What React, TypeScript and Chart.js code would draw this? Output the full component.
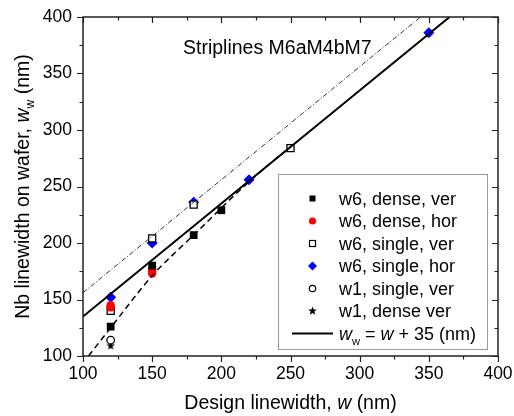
import React, { useEffect, useRef } from 'react';
import { Chart, registerables } from 'chart.js';
Chart.register(...registerables);

// ---------- data ----------
const seriesNames = ['w6, dense, ver', 'w6, dense, hor', 'w6, single, ver', 'w6, single, hor', 'w1, single, ver', 'w1, dense ver'];

const w6DenseVerX = [120, 150, 180, 200];
const w6DenseVerY = [126, 180, 207, 229];
const w6DenseHorX = [120, 120, 150, 150, 150];
const w6DenseHorY = [145, 143, 177, 175, 173];
const w6SingleVerX = [120, 150, 180, 250];
const w6SingleVerY = [140, 204, 234, 284];
const w6SingleHorX = [120, 150, 180, 220, 350];
const w6SingleHorY = [152, 200, 236, 256, 386];
const w1SingleVerX = [120];
const w1SingleVerY = [114];
const w1DenseVerX = [120];
const w1DenseVerY = [109];

// fit line w_w = w + 35
const fitX = [100, 365];
const fitY = [135, 400];
// upper dash-dot guide
const upperX = [100, 344];
const upperY = [156, 400];
// lower dashed curve
const dashedX = [104, 120, 150, 167, 180, 211, 233, 250];
const dashedY = [100, 125, 171, 192, 207, 244, 268, 285];

const xMajorTicks = [100, 150, 200, 250, 300, 350, 400];
const yMajorTicks = [100, 150, 200, 250, 300, 350, 400];

const annotationText = 'Striplines M6aM4bM7';

const FONT = "'Liberation Sans', Arial, Helvetica, sans-serif";

const zip = (xs: number[], ys: number[]) => xs.map((x, i) => ({ x, y: ys[i] }));

function starPath(ctx: CanvasRenderingContext2D, cx: number, cy: number, R: number, r: number) {
  ctx.beginPath();
  for (let i = 0; i < 10; i++) {
    const rad = i % 2 === 0 ? R : r;
    const a = -Math.PI / 2 + (i * Math.PI) / 5;
    const px = cx + rad * Math.cos(a);
    const py = cy + rad * Math.sin(a);
    if (i === 0) ctx.moveTo(px, py);
    else ctx.lineTo(px, py);
  }
  ctx.closePath();
}

function makeStar(R: number) {
  const c = document.createElement('canvas');
  const s = Math.ceil(R * 2 + 2);
  c.width = s;
  c.height = s;
  const g = c.getContext('2d')!;
  g.fillStyle = '#000';
  starPath(g, s / 2, s / 2, R, R * 0.42);
  g.fill();
  return c;
}

type Seg = { t: string; it?: boolean; sub?: boolean };

function drawRich(ctx: CanvasRenderingContext2D, segs: Seg[], x: number, y: number, size: number, align: 'left' | 'center') {
  const fontOf = (s: Seg) => `${s.it ? 'italic ' : ''}${s.sub ? size * 0.62 : size}px ${FONT}`;
  let total = 0;
  const widths = segs.map((s) => {
    ctx.font = fontOf(s);
    const w = ctx.measureText(s.t).width;
    total += w;
    return w;
  });
  let cx = align === 'center' ? x - total / 2 : x;
  ctx.textAlign = 'left';
  ctx.textBaseline = 'alphabetic';
  segs.forEach((s, i) => {
    ctx.font = fontOf(s);
    ctx.fillText(s.t, cx, y + (s.sub ? size * 0.28 : 0));
    cx += widths[i];
  });
}

const decor = {
  id: 'decor',
  afterDraw(chart: any) {
    const { ctx, chartArea } = chart;
    const { left, right, top, bottom } = chartArea;
    const xs = chart.scales.x;
    const ys = chart.scales.y;
    ctx.save();
    ctx.fillStyle = '#000';
    ctx.strokeStyle = '#222';
    // frame
    ctx.lineWidth = 1.5;
    ctx.strokeRect(left, top, right - left, bottom - top);
    // ticks
    ctx.lineWidth = 1.2;
    ctx.beginPath();
    const xAll: [number, boolean][] = [];
    xMajorTicks.forEach((v, i) => {
      xAll.push([v, true]);
      if (i < xMajorTicks.length - 1) xAll.push([(v + xMajorTicks[i + 1]) / 2, false]);
    });
    const yAll: [number, boolean][] = [];
    yMajorTicks.forEach((v, i) => {
      yAll.push([v, true]);
      if (i < yMajorTicks.length - 1) yAll.push([(v + yMajorTicks[i + 1]) / 2, false]);
    });
    xAll.forEach(([v, major]) => {
      const len = major ? 6 : 3.5;
      const px = Math.round(xs.getPixelForValue(v)) + 0.5;
      ctx.moveTo(px, bottom);
      ctx.lineTo(px, bottom + len);
      ctx.moveTo(px, top);
      ctx.lineTo(px, top + len);
    });
    yAll.forEach(([v, major]) => {
      const len = major ? 6 : 3.5;
      const py = Math.round(ys.getPixelForValue(v)) + 0.5;
      ctx.moveTo(left, py);
      ctx.lineTo(left - len, py);
      ctx.moveTo(right, py);
      ctx.lineTo(right - len, py);
    });
    ctx.stroke();

    // annotation
    ctx.fillStyle = '#000';
    drawRich(ctx, [{ t: annotationText }], 183, 54, 19.5, 'left');

    // axis titles
    drawRich(ctx, [{ t: 'Design linewidth, ' }, { t: 'w', it: true }, { t: ' (nm)' }], (left + right) / 2, 409, 19.5, 'center');
    ctx.save();
    ctx.translate(29, (top + bottom) / 2);
    ctx.rotate(-Math.PI / 2);
    drawRich(ctx, [{ t: 'Nb linewidth on wafer, ' }, { t: 'w', it: true }, { t: 'w', sub: true }, { t: ' (nm)' }], 0, 0, 19.5, 'center');
    ctx.restore();

    // legend
    const bx = 278, by = 174, bw = 209, bh = 175;
    ctx.fillStyle = '#fff';
    ctx.fillRect(bx, by, bw, bh);
    ctx.strokeStyle = '#9a9a9a';
    ctx.lineWidth = 1;
    ctx.strokeRect(bx + 0.5, by + 0.5, bw, bh);
    const mx = 312.5, tx = 339;
    const rows = [198.5, 221, 243.5, 266, 288.5, 311, 333.5];
    const LS = 18;
    seriesNames.forEach((name, i) => {
      const cy = rows[i];
      ctx.save();
      if (i === 0) {
        ctx.fillStyle = '#000';
        ctx.fillRect(mx - 3, cy - 3, 6, 6);
      } else if (i === 1) {
        ctx.fillStyle = '#ff0000';
        ctx.beginPath();
        ctx.arc(mx, cy, 3.6, 0, Math.PI * 2);
        ctx.fill();
      } else if (i === 2) {
        ctx.strokeStyle = '#000';
        ctx.lineWidth = 1.2;
        ctx.fillStyle = '#fff';
        ctx.fillRect(mx - 3, cy - 3, 6, 6);
        ctx.strokeRect(mx - 3, cy - 3, 6, 6);
      } else if (i === 3) {
        ctx.fillStyle = '#0000ff';
        ctx.beginPath();
        ctx.moveTo(mx, cy - 4.5);
        ctx.lineTo(mx + 4.5, cy);
        ctx.lineTo(mx, cy + 4.5);
        ctx.lineTo(mx - 4.5, cy);
        ctx.closePath();
        ctx.fill();
      } else if (i === 4) {
        ctx.strokeStyle = '#000';
        ctx.lineWidth = 1.2;
        ctx.beginPath();
        ctx.arc(mx, cy, 3.2, 0, Math.PI * 2);
        ctx.stroke();
      } else {
        ctx.fillStyle = '#000';
        starPath(ctx, mx, cy, 4.6, 1.9);
        ctx.fill();
      }
      ctx.restore();
      ctx.fillStyle = '#000';
      drawRich(ctx, [{ t: name }], tx, cy + 6.3, LS, 'left');
    });
    // line entry
    const ly = rows[6];
    ctx.strokeStyle = '#000';
    ctx.lineWidth = 2;
    ctx.beginPath();
    ctx.moveTo(292, ly);
    ctx.lineTo(333, ly);
    ctx.stroke();
    ctx.fillStyle = '#000';
    drawRich(ctx, [{ t: 'w', it: true }, { t: 'w', sub: true }, { t: ' = ' }, { t: 'w', it: true }, { t: ' + 35 (nm)' }], tx, ly + 6.3, LS, 'left');
    ctx.restore();
  },
};

export default function App() {
  const ref = useRef<HTMLCanvasElement | null>(null);
  useEffect(() => {
    document.body.style.margin = '0';
    const canvas = ref.current!;
    const star = makeStar(4.6);
    const chart = new Chart(canvas, {
      type: 'scatter',
      data: {
        datasets: [
          {
            label: 'upper',
            data: zip(upperX, upperY),
            showLine: true,
            pointRadius: 0,
            borderColor: '#333',
            borderWidth: 1,
            borderDash: [5, 2, 1, 2],
          },
          {
            label: 'dashed',
            data: zip(dashedX, dashedY),
            showLine: true,
            pointRadius: 0,
            borderColor: '#000',
            borderWidth: 1.5,
            borderDash: [6, 4],
            cubicInterpolationMode: 'monotone',
          },
          {
            label: 'fit',
            data: zip(fitX, fitY),
            showLine: true,
            pointRadius: 0,
            borderColor: '#000',
            borderWidth: 2,
          },
          {
            label: seriesNames[0],
            data: zip(w6DenseVerX, w6DenseVerY),
            pointStyle: 'rect',
            pointRadius: 5.5,
            backgroundColor: '#000',
            borderColor: '#000',
            borderWidth: 0,
          },
          {
            label: seriesNames[1],
            data: zip(w6DenseHorX, w6DenseHorY),
            pointStyle: 'circle',
            pointRadius: 4.2,
            backgroundColor: '#ff0000',
            borderColor: '#ff0000',
            borderWidth: 0,
          },
          {
            label: seriesNames[2],
            data: zip(w6SingleVerX, w6SingleVerY),
            pointStyle: 'rect',
            pointRadius: 5,
            backgroundColor: '#fff',
            borderColor: '#000',
            borderWidth: 1.3,
          },
          {
            label: seriesNames[3],
            data: zip(w6SingleHorX, w6SingleHorY),
            pointStyle: 'rectRot',
            pointRadius: 5.5,
            backgroundColor: '#0000ff',
            borderColor: '#0000ff',
            borderWidth: 0,
          },
          {
            label: seriesNames[4],
            data: zip(w1SingleVerX, w1SingleVerY),
            pointStyle: 'circle',
            pointRadius: 3.8,
            backgroundColor: '#fff',
            borderColor: '#000',
            borderWidth: 1.3,
          },
          {
            label: seriesNames[5],
            data: zip(w1DenseVerX, w1DenseVerY),
            pointStyle: star as any,
            pointRadius: 5,
          },
        ],
      },
      options: {
        responsive: false,
        animation: false,
        devicePixelRatio: 1,
        layout: { padding: { left: 0, right: 16, top: 17, bottom: 0 } },
        plugins: { legend: { display: false }, tooltip: { enabled: false } },
        scales: {
          x: {
            type: 'linear',
            min: 100,
            max: 400,
            grid: { display: false, drawTicks: false, tickLength: 0 },
            border: { display: false },
            ticks: {
              stepSize: 50,
              color: '#000',
              padding: 8,
              font: { family: FONT, size: 17.5 },
              maxRotation: 0,
            },
            afterFit: (s: any) => {
              s.height = 60;
              s.paddingLeft = 0;
              s.paddingRight = 0;
            },
          },
          y: {
            type: 'linear',
            min: 100,
            max: 400,
            grid: { display: false, drawTicks: false, tickLength: 0 },
            border: { display: false },
            ticks: {
              stepSize: 50,
              color: '#000',
              padding: 11,
              font: { family: FONT, size: 17.5 },
            },
            afterFit: (s: any) => {
              s.width = 83;
              s.paddingTop = 0;
              s.paddingBottom = 0;
            },
          },
        },
      },
      plugins: [decor],
    } as any);
    return () => chart.destroy();
  }, []);
  return (
    <div style={{ position: 'fixed', left: 0, top: 0, width: 514, height: 416, background: '#fff' }}>
      <canvas ref={ref} width={514} height={416} style={{ display: 'block' }} />
    </div>
  );
}
